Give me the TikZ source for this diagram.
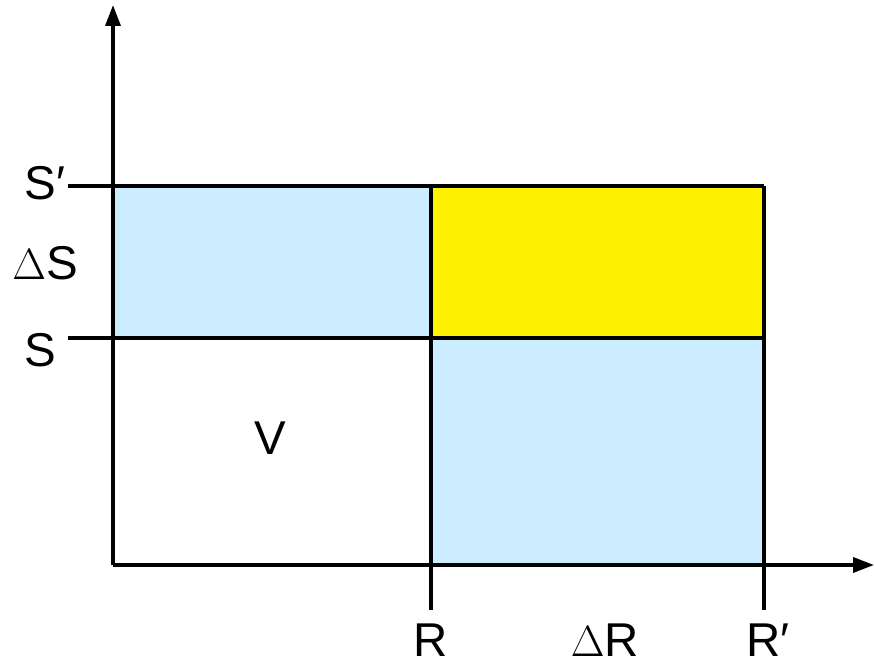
\documentclass[tikz,border=0pt]{standalone}
\usepackage{fontspec}
\setmainfont{Liberation Sans}
\usetikzlibrary{arrows.meta}
\definecolor{paleblue}{RGB}{204,236,255}
\tikzset{
  axis/.style={line width=2pt, draw=black, -{Triangle[length=0.42cm, width=0.3cm]}},
  edge/.style={line width=2pt, draw=black, line cap=butt},
  bluebox/.style={fill=paleblue},
  yellowbox/.style={fill=yellow},
  axlabel/.style={font=\fontsize{27}{30}\selectfont, inner sep=0pt},
}
\begin{document}
\begin{tikzpicture}
\useasboundingbox (0,0) rectangle (17.48,13.36);
\coordinate (origin) at (2.260,2.060);
\coordinate (ytop) at (2.260,13.260);
\coordinate (xend) at (17.48,2.060);
\coordinate (stick) at (1.360,9.640);
\coordinate (tick) at (1.360,6.600);
\coordinate (sprime) at (15.280,9.640);
\coordinate (s) at (15.280,6.600);
\coordinate (rtop) at (8.620,9.640);
\coordinate (rbot) at (8.620,1.160);
\coordinate (rptop) at (15.280,9.640);
\coordinate (rpbot) at (15.280,1.160);
\fill[bluebox] (2.260,6.600) rectangle (8.620,9.640);
\fill[yellowbox] (8.620,6.600) rectangle (15.280,9.640);
\fill[bluebox] (8.620,2.060) rectangle (15.280,6.600);
\draw[edge] (stick) -- (sprime);
\draw[edge] (tick) -- (s);
\draw[edge] (rtop) -- (rbot);
\draw[edge] (rptop) -- (rpbot);
\draw[axis] (origin) -- (ytop);
\draw[axis] (origin) -- (xend);
\node[axlabel] (lsp) at (0.900,9.700) {S′};
\node[axlabel] (lds) at (0.900,8.100) {$\Delta$S};
\node[axlabel] (ls) at (0.800,6.350) {S};
\node[axlabel] (lv) at (5.400,4.600) {V};
\node[axlabel] (lr) at (8.620,0.560) {R};
\node[axlabel] (ldr) at (12.100,0.560) {$\Delta$R};
\node[axlabel] (lrp) at (15.360,0.560) {R′};
\end{tikzpicture}
\end{document}
